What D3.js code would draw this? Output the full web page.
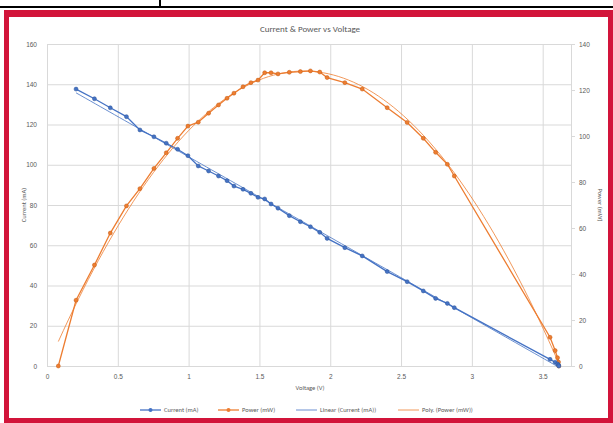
<!DOCTYPE html>
<html>
<head>
<meta charset="utf-8">
<script src="https://cdn.jsdelivr.net/npm/d3@7"></script>
<style>
    html, body { margin: 0; padding: 0; background: #fff; }
    svg { display: block; font-family: Calibri, Carlito, "Liberation Sans", "DejaVu Sans", sans-serif; }
</style>
</head>
<body>
<svg id="chart" width="613" height="423"></svg>
<script>
'use strict';

// measured points (voltage shared by both series)
var voltage = [0.08, 0.205, 0.335, 0.447, 0.561, 0.656, 0.755, 0.842, 0.922, 0.995,
    1.068, 1.141, 1.211, 1.271, 1.32, 1.384, 1.44, 1.49, 1.537, 1.582,
    1.631, 1.711, 1.789, 1.86, 1.926, 1.978, 2.103, 2.226, 2.402, 2.543,
    2.657, 2.744, 2.827, 2.876, 3.552, 3.588, 3.605, 3.612, 3.614];
var current_mA = [null, 137.6, 132.8, 128.3, 123.9, 117.3, 113.9, 110.7, 107.7, 104.5,
    99.4, 96.9, 94.4, 92.1, 89.4, 87.8, 85.8, 83.8, 83.0, 80.5,
    78.4, 74.7, 71.7, 69.2, 66.4, 63.4, 58.8, 54.7, 46.9, 41.9,
    37.3, 33.6, 31.1, 29.0, 3.3, 1.9, 1.0, 0.5, 0];
var power_mW = [0, 28.6, 43.9, 57.8, 69.6, 77.1, 85.9, 92.7, 99.0, 104.3,
    106.0, 109.9, 113.5, 116.4, 118.6, 121.4, 123.2, 124.3, 127.5, 127.5,
    127.0, 127.7, 128.0, 128.3, 127.8, 125.4, 123.2, 120.4, 112.3, 105.9,
    99.0, 92.9, 87.7, 82.6, 12.5, 6.7, 3.6, 1.7, 0];

var xTicks = [0, 0.5, 1, 1.5, 2, 2.5, 3, 3.5];
var leftTicks = [0, 20, 40, 60, 80, 100, 120, 140, 160];
var rightTicks = [0, 20, 40, 60, 80, 100, 120, 140];
var legendLabels = ['Current (mA)', 'Power (mW)', 'Linear (Current (mA))', 'Poly. (Power (mW))'];

var blue = '#4472C4',
    orange = '#ED7D31',
    textColor = '#595959',
    gridColor = '#D9D9D9',
    frameRed = '#D2143A';

var svg = d3.select('#chart'),
    margin = {left: 47, right: 42, top: 44, bottom: 57},
    width = 613 - margin.left - margin.right,
    height = 423 - margin.top - margin.bottom;

// page bits around the chart: table borders and red frame
svg.append('rect').attr('x', 0).attr('y', 0).attr('width', 613).attr('height', 423).attr('fill', '#fff');
svg.append('rect').attr('x', 0).attr('y', 6).attr('width', 613).attr('height', 2).attr('fill', '#000');
svg.append('rect').attr('x', 159).attr('y', 0).attr('width', 2).attr('height', 7).attr('fill', '#000');
svg.append('rect').attr('x', 4).attr('y', 10).attr('width', 609).attr('height', 413).attr('fill', frameRed);
svg.append('rect').attr('x', 9).attr('y', 17).attr('width', 599).attr('height', 401).attr('fill', '#fff');

var x = d3.scaleLinear().domain([0, 3.7]).range([0, width]),
    yLeft = d3.scaleLinear().domain([0, 160]).range([height, 0]),
    yRight = d3.scaleLinear().domain([0, 140]).range([height, 0]);

var g = svg.append('g').attr('transform', 'translate(' + margin.left + ',' + margin.top + ')');

// gridlines
g.append('g').selectAll('line').data(leftTicks).enter().append('line')
    .attr('x1', 0).attr('x2', width)
    .attr('y1', function(d) { return yLeft(d) + 0.5; })
    .attr('y2', function(d) { return yLeft(d) + 0.5; })
    .attr('stroke', gridColor).attr('stroke-width', 1);
g.append('g').selectAll('line').data(xTicks).enter().append('line')
    .attr('x1', function(d) { return x(d) + 0.5; })
    .attr('x2', function(d) { return x(d) + 0.5; })
    .attr('y1', 0).attr('y2', height)
    .attr('stroke', gridColor).attr('stroke-width', 1);

// axes
var xAxis = g.append('g').attr('transform', 'translate(0,' + height + ')')
    .call(d3.axisBottom(x).tickValues(xTicks).tickSize(0).tickPadding(8).tickFormat(d3.format('')));
var leftAxis = g.append('g')
    .call(d3.axisLeft(yLeft).tickValues(leftTicks).tickSize(0).tickPadding(10));
var rightAxis = g.append('g').attr('transform', 'translate(' + width + ',0)')
    .call(d3.axisRight(yRight).tickValues(rightTicks).tickSize(4).tickPadding(4));

[xAxis, leftAxis, rightAxis].forEach(function(a) {
    a.selectAll('text').attr('fill', textColor).style('font-size', '6.5px');
    a.selectAll('.tick line').attr('stroke', gridColor);
    a.select('.domain').attr('stroke', gridColor);
});
leftAxis.select('.domain').remove();

// trendlines computed from the measured points
function linearFit(xs, ys) {
    var n = xs.length, sx = d3.sum(xs), sy = d3.sum(ys),
        sxx = d3.sum(xs, function(v) { return v * v; }),
        sxy = d3.sum(xs, function(v, i) { return v * ys[i]; });
    var b = (n * sxy - sx * sy) / (n * sxx - sx * sx);
    return {b: b, a: (sy - b * sx) / n};
}

function polyFit2(xs, ys) {
    var s = [0, 0, 0, 0, 0], t = [0, 0, 0];
    xs.forEach(function(v, i) {
        for (var k = 0; k < 5; k++) s[k] += Math.pow(v, k);
        for (var j = 0; j < 3; j++) t[j] += Math.pow(v, j) * ys[i];
    });
    var m = [[s[0], s[1], s[2], t[0]], [s[1], s[2], s[3], t[1]], [s[2], s[3], s[4], t[2]]];
    // gaussian elimination
    for (var c = 0; c < 3; c++) {
        for (var r = c + 1; r < 3; r++) {
            var f = m[r][c] / m[c][c];
            for (var k2 = c; k2 < 4; k2++) m[r][k2] -= f * m[c][k2];
        }
    }
    var coef = [0, 0, 0];
    for (var r2 = 2; r2 >= 0; r2--) {
        var acc = m[r2][3];
        for (var c2 = r2 + 1; c2 < 3; c2++) acc -= m[r2][c2] * coef[c2];
        coef[r2] = acc / m[r2][r2];
    }
    return coef;
}

var currentPts = voltage.map(function(v, i) { return {v: v, y: current_mA[i]}; })
    .filter(function(d) { return d.y !== null; });
var powerPts = voltage.map(function(v, i) { return {v: v, y: power_mW[i]}; });

var lin = linearFit(currentPts.map(function(d) { return d.v; }), currentPts.map(function(d) { return d.y; }));
var poly = polyFit2(powerPts.map(function(d) { return d.v; }), powerPts.map(function(d) { return d.y; }));

function sampleRange(lo, hi, fn) {
    return d3.range(0, 101).map(function(k) {
        var v = lo + (hi - lo) * k / 100;
        return {v: v, y: fn(v)};
    });
}

var linLine = sampleRange(d3.min(currentPts, function(d) { return d.v; }), d3.max(currentPts, function(d) { return d.v; }),
    function(v) { return lin.a + lin.b * v; });
var polyLine = sampleRange(d3.min(powerPts, function(d) { return d.v; }), d3.max(powerPts, function(d) { return d.v; }),
    function(v) { return poly[0] + poly[1] * v + poly[2] * v * v; });

var lineLeft = d3.line().x(function(d) { return x(d.v); }).y(function(d) { return yLeft(d.y); }),
    lineRight = d3.line().x(function(d) { return x(d.v); }).y(function(d) { return yRight(d.y); });

// series lines
g.append('path').attr('d', lineRight(powerPts))
    .attr('fill', 'none').attr('stroke', orange).attr('stroke-width', 1.3);
g.append('path').attr('d', lineLeft(currentPts))
    .attr('fill', 'none').attr('stroke', blue).attr('stroke-width', 1.3);

// trendlines
g.append('path').attr('d', lineLeft(linLine))
    .attr('fill', 'none').attr('stroke', blue).attr('stroke-width', 0.8);
g.append('path').attr('d', lineRight(polyLine))
    .attr('fill', 'none').attr('stroke', orange).attr('stroke-width', 0.8);

// markers
g.append('g').selectAll('circle').data(powerPts).enter().append('circle')
    .attr('cx', function(d) { return x(d.v); })
    .attr('cy', function(d) { return yRight(d.y); })
    .attr('r', 2).attr('fill', orange).attr('stroke', '#C55A11').attr('stroke-width', 0.5);
g.append('g').selectAll('circle').data(currentPts).enter().append('circle')
    .attr('cx', function(d) { return x(d.v); })
    .attr('cy', function(d) { return yLeft(d.y); })
    .attr('r', 2).attr('fill', blue).attr('stroke', '#2F5597').attr('stroke-width', 0.5);

// titles
svg.append('text').attr('x', 310).attr('y', 32).attr('text-anchor', 'middle')
    .attr('fill', textColor).style('font-size', '9px').text('Current & Power vs Voltage');
svg.append('text').attr('x', 310).attr('y', 390).attr('text-anchor', 'middle')
    .attr('fill', textColor).style('font-size', '6.5px').text('Voltage (V)');
svg.append('text').attr('transform', 'translate(26,' + (margin.top + height / 2) + ') rotate(-90)')
    .attr('text-anchor', 'middle').attr('fill', textColor).style('font-size', '6.5px').text('Current (mA)');
svg.append('text').attr('transform', 'translate(598,' + (margin.top + height / 2) + ') rotate(90)')
    .attr('text-anchor', 'middle').attr('fill', textColor).style('font-size', '6.5px').text('Power (mW)');

// legend
var legendItems = [
    {label: legendLabels[0], color: blue, marker: true, w: 1.3, x: 140},
    {label: legendLabels[1], color: orange, marker: true, w: 1.3, x: 218},
    {label: legendLabels[2], color: blue, marker: false, w: 0.8, x: 296},
    {label: legendLabels[3], color: orange, marker: false, w: 0.8, x: 398}
];
var legend = svg.append('g').attr('transform', 'translate(0,410)');
legendItems.forEach(function(item) {
    legend.append('line').attr('x1', item.x).attr('x2', item.x + 21)
        .attr('y1', 0).attr('y2', 0).attr('stroke', item.color).attr('stroke-width', item.w);
    if (item.marker) {
        legend.append('circle').attr('cx', item.x + 10.5).attr('cy', 0).attr('r', 2).attr('fill', item.color);
    }
    legend.append('text').attr('x', item.x + 24).attr('y', 2.3)
        .attr('fill', textColor).style('font-size', '6.5px').text(item.label);
});
</script>
</body>
</html>
